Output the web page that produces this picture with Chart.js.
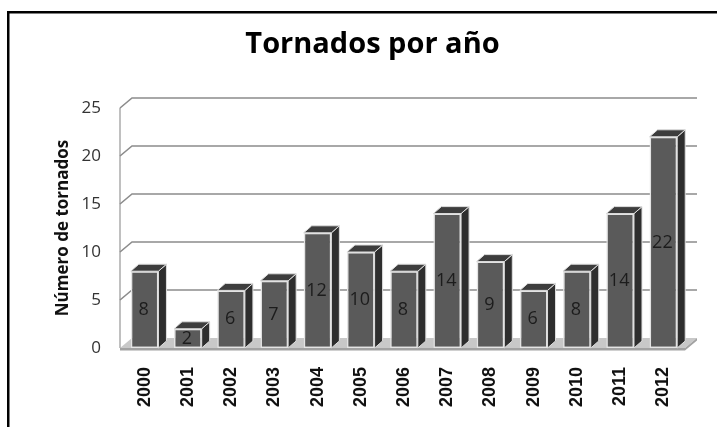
<!DOCTYPE html>
<html>
<head>
<meta charset="utf-8">
<script src="https://cdn.jsdelivr.net/npm/chart.js@4"></script>
<style>
  html, body { margin: 0; padding: 0; background: #fff; overflow: hidden; }
  canvas { display: block; }
</style>
</head>
<body>
<canvas id="c" width="717" height="427"></canvas>
<script>
// Tornadoes recorded per year
const years = ['2000', '2001', '2002', '2003', '2004', '2005', '2006',
               '2007', '2008', '2009', '2010', '2011', '2012'];
const tornadoes = [8, 2, 6, 7, 12, 10, 8, 14, 9, 6, 8, 14, 22];
const yTickStep = 5;
const yMax = 25;
const chartTitle = 'Tornados por año';
const yAxisTitle = 'Número de tornados';

// Pseudo-3D geometry
const WALL_DX = 12, WALL_DY = -10;   // depth of back wall / floor
const BAR_DX = 8, BAR_DY = -7;       // depth of each column
const WALL_INSET = 3;                // left wall sits slightly left of plot area

// White page with the black frame on top and left
const framePlugin = {
  id: 'frame',
  beforeDraw(chart) {
    const ctx = chart.ctx;
    ctx.save();
    ctx.fillStyle = '#fff';
    ctx.fillRect(0, 0, chart.width, chart.height);
    ctx.fillStyle = '#000';
    ctx.fillRect(7, 11, chart.width - 7, 2.5);
    ctx.fillRect(7, 11, 2.5, chart.height - 11);
    ctx.restore();
  }
};

// Back wall gridlines, left wall and floor
const wallsPlugin = {
  id: 'walls',
  beforeDatasetsDraw(chart) {
    const { ctx, chartArea: a, scales: { y } } = chart;
    const x0 = a.left - WALL_INSET;
    const yb = y.getPixelForValue(0);
    ctx.save();

    // floor top surface
    ctx.fillStyle = '#c8c8c8';
    ctx.beginPath();
    ctx.moveTo(x0, yb);
    ctx.lineTo(a.right, yb);
    ctx.lineTo(a.right + WALL_DX, yb + WALL_DY);
    ctx.lineTo(x0 + WALL_DX, yb + WALL_DY);
    ctx.closePath();
    ctx.fill();

    // floor front and right edge
    ctx.fillStyle = '#a2a2a2';
    ctx.beginPath();
    ctx.moveTo(x0, yb);
    ctx.lineTo(a.right, yb);
    ctx.lineTo(a.right + WALL_DX, yb + WALL_DY);
    ctx.lineTo(a.right + WALL_DX, yb + WALL_DY + 2.5);
    ctx.lineTo(a.right, yb + 2.5);
    ctx.lineTo(x0, yb + 2.5);
    ctx.closePath();
    ctx.fill();

    // left wall edge
    ctx.strokeStyle = '#ababab';
    ctx.lineWidth = 1.5;
    ctx.beginPath();
    ctx.moveTo(x0, y.getPixelForValue(y.max));
    ctx.lineTo(x0, yb);
    ctx.stroke();

    // gridlines running over the left wall and along the back wall
    ctx.strokeStyle = '#8c8c8c';
    ctx.lineWidth = 1.6;
    y.ticks.forEach(t => {
      if (t.value === 0) return;
      const py = y.getPixelForValue(t.value);
      ctx.beginPath();
      ctx.moveTo(x0, py);
      ctx.lineTo(x0 + WALL_DX, py + WALL_DY);
      ctx.lineTo(a.right + WALL_DX, py + WALL_DY);
      ctx.stroke();
    });
    ctx.restore();
  }
};

// Side and top faces of each column, then the value inside it
const columnsPlugin = {
  id: 'columns3d',
  afterDatasetsDraw(chart) {
    const ctx = chart.ctx;
    const meta = chart.getDatasetMeta(0);
    const values = chart.data.datasets[0].data;
    ctx.save();
    ctx.lineWidth = 1;
    ctx.strokeStyle = '#dedede';
    meta.data.forEach((bar, i) => {
      const { x, y: top, base, width } = bar.getProps(['x', 'y', 'base', 'width'], true);
      const l = x - width / 2, r = x + width / 2;

      ctx.fillStyle = '#2e2e2e';
      ctx.beginPath();
      ctx.moveTo(r, top);
      ctx.lineTo(r + BAR_DX, top + BAR_DY);
      ctx.lineTo(r + BAR_DX, base + BAR_DY);
      ctx.lineTo(r, base);
      ctx.closePath();
      ctx.fill();
      ctx.stroke();

      ctx.fillStyle = '#3d3d3d';
      ctx.beginPath();
      ctx.moveTo(l, top);
      ctx.lineTo(l + BAR_DX, top + BAR_DY);
      ctx.lineTo(r + BAR_DX, top + BAR_DY);
      ctx.lineTo(r, top);
      ctx.closePath();
      ctx.fill();
      ctx.stroke();

      ctx.fillStyle = '#1c1c1c';
      ctx.font = '18px "Open Sans"';
      ctx.textAlign = 'center';
      ctx.textBaseline = 'middle';
      ctx.fillText(String(values[i]), x - 1, (top + base) / 2);
    });
    ctx.restore();
  }
};

new Chart(document.getElementById('c'), {
  type: 'bar',
  data: {
    labels: years,
    datasets: [{
      data: tornadoes,
      backgroundColor: '#5a5a5a',
      borderColor: '#e4e4e4',
      borderWidth: 1.5,
      borderSkipped: false,
      categoryPercentage: 1,
      barPercentage: 0.64
    }]
  },
  options: {
    responsive: false,
    devicePixelRatio: 1,
    animation: false,
    layout: { padding: { left: 60, right: 32, top: 0, bottom: 0 } },
    plugins: {
      legend: { display: false },
      tooltip: { enabled: false },
      title: {
        display: true,
        text: chartTitle,
        color: '#000',
        font: { family: '"Open Sans"', weight: 'bold', size: 29 },
        padding: { top: 27, bottom: 46.2 }
      }
    },
    scales: {
      x: {
        grid: { display: false, drawTicks: false },
        border: { display: false },
        ticks: {
          autoSkip: false,
          minRotation: 90,
          maxRotation: 90,
          padding: 19,
          color: '#111',
          font: { family: '"Liberation Sans"', weight: 'bold', size: 18 }
        },
        afterFit(scale) { scale.height = 79; }
      },
      y: {
        min: 0,
        max: yMax,
        grid: { display: false, drawTicks: false },
        border: { display: false },
        ticks: {
          stepSize: yTickStep,
          padding: 22,
          color: '#333',
          font: { family: '"Open Sans"', size: 17 }
        },
        title: {
          display: true,
          text: yAxisTitle,
          color: '#111',
          font: { family: '"Open Sans"', weight: 'bold', size: 17 },
          padding: { top: -7.2, bottom: 0 }
        },
        afterFit(scale) { scale.width = 63; }
      }
    }
  },
  plugins: [framePlugin, wallsPlugin, columnsPlugin]
});
</script>
</body>
</html>
